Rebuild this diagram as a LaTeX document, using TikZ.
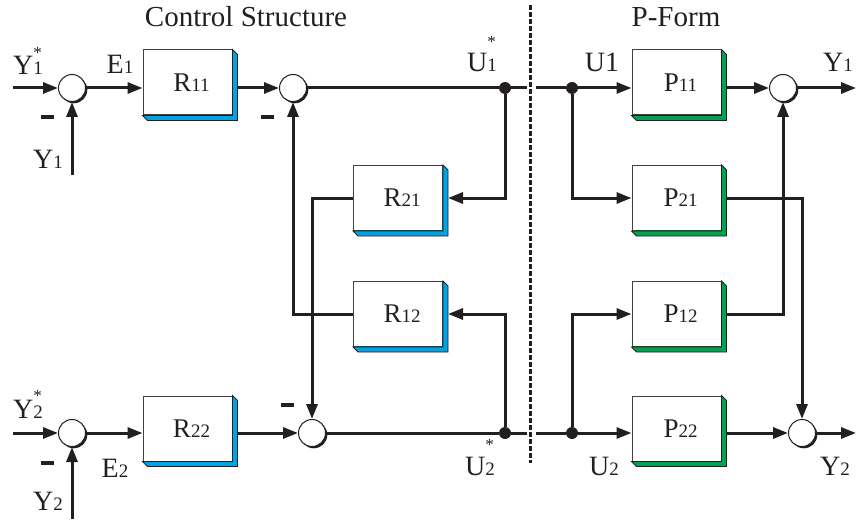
\documentclass[tikz,border=0pt]{standalone}
\usepackage{fontspec}
\setmainfont{Liberation Serif}
\usetikzlibrary{positioning, arrows.meta, calc, shadows}
\definecolor{ink}{RGB}{35,31,32}
\definecolor{rshade}{RGB}{0,164,228}
\definecolor{pshade}{RGB}{0,163,80}
\newcommand{\ix}[1]{{\fontsize{9.5}{9.5}\selectfont #1}}
\newcommand{\sx}[3]{#1\rlap{\raisebox{#3}{\fontsize{8.5}{8.5}\selectfont *}}\ix{#2}}

\begin{document}
\begin{tikzpicture}[
			x=0.5pt, y=-0.5pt,
			wire/.style={draw=ink, line width=1.5pt},
			arr/.style={wire, -{Triangle[length=7.5pt, width=5.5pt]}},
			sumnode/.style={circle, draw=ink, fill=white, line width=0.5pt, minimum size=13.5pt, inner sep=0pt,
				drop shadow={shadow xshift=0.9pt, shadow yshift=-0.9pt, fill=ink, opacity=1}},
			dotnode/.style={circle, fill=ink, minimum size=6pt, inner sep=0pt},
			block/.style={draw=ink!85, fill=white, line width=0.5pt, minimum width=44.5pt, minimum height=32.5pt,
				inner sep=0pt, text=ink, font=\fontsize{13.5}{14}\selectfont},
			lbl/.style={anchor=base, inner sep=0pt, text=ink, font=\fontsize{14}{14}\selectfont},
			zone/.style={anchor=base, inner sep=0pt, text=ink, font=\fontsize{14.5}{15}\selectfont},
			minus/.style={inner sep=0pt, text=ink}
			]
			\useasboundingbox (0,0) rectangle (856,519);
			
			% Nodes
			\node[sumnode] (s11) at (72,88) {};
			\node[sumnode] (s12) at (293,88) {};
			\node[sumnode] (s13) at (783,88) {};
			\node[sumnode] (s21) at (72,433) {};
			\node[sumnode] (s22) at (312,433) {};
			\node[sumnode] (s23) at (802,433) {};
			
			\node[block] (r11) at (187.5,82.5) {\hspace{4pt}R\ix{11}};
			\node[block] (r21) at (398,198)    {\hspace{4pt}R\ix{21}};
			\node[block] (r12) at (398,314)    {\hspace{4pt}R\ix{12}};
			\node[block] (r22) at (187.5,428.5) {\hspace{4pt}R\ix{22}};
			\node[block] (p11) at (676.5,82.5) {\hspace{4pt}P\ix{11}};
			\node[block] (p21) at (676.5,198)  {\hspace{4pt}P\ix{21}};
			\node[block] (p12) at (676.5,314)  {\hspace{4pt}P\ix{12}};
			\node[block] (p22) at (676.5,428.5) {\hspace{4pt}P\ix{22}};
			
			% box shadows
			\foreach \b/\c in {r11/rshade, r21/rshade, r12/rshade, r22/rshade,
				p11/pshade, p21/pshade, p12/pshade, p22/pshade}
			\filldraw[fill=\c, draw=ink, line width=0.4pt] (\b.north east) -- ++(5,5)
			-- ($(\b.south east)+(5,5)$) -- ($(\b.south west)+(5,5)$) -- (\b.south west)
			-- (\b.south east) -- cycle;
			
			\node[dotnode] (b1) at (505,88) {};
			\node[dotnode] (b2) at (505,433) {};
			\node[dotnode] (c1) at (572,88) {};
			\node[dotnode] (c2) at (572,433) {};
			
			\coordinate (in1) at (13,88);
			\coordinate (in2) at (13,433);
			\coordinate (fb1) at (72,175);
			\coordinate (fb2) at (72,519);
			\coordinate (out1) at (856,88);
			\coordinate (out2) at (856,433);
			\coordinate (d1) at (530,5);
			\coordinate (d2) at (530,463);
			
			% Labels
			\node[zone] (t1) at (246,27) {Control Structure};
			\node[zone] (t2) at (676,27) {P-Form};
			\node[lbl] (y1s) at (28,75)  {\sx{Y}{1}{1.25ex}};
			\node[lbl] (e1)  at (120,74) {E\ix{1}};
			\node[lbl] (y1)  at (48,168) {Y\ix{1}};
			\node[lbl] (u1s) at (482,72) {\sx{U}{1}{1.9ex}};
			\node[lbl] (u1)  at (602,72) {U1};
			\node[lbl] (y1o) at (838,72) {Y\ix{1}};
			\node[lbl] (y2s) at (28,418) {\sx{Y}{2}{1.25ex}};
			\node[lbl] (e2)  at (115,477) {E\ix{2}};
			\node[lbl] (y2)  at (48,510) {Y\ix{2}};
			\node[lbl] (u2s) at (480,475) {\sx{U}{2}{1.9ex}};
			\node[lbl] (u2)  at (604,475) {U\ix{2}};
			\node[lbl] (y2o) at (835,475) {Y\ix{2}};
			\node[minus] (m1) at (47,117)  {\rule{6.5pt}{1.6pt}};
			\node[minus] (m2) at (267,117) {\rule{6.5pt}{1.6pt}};
			\node[minus] (m3) at (47,463)  {\rule{6.5pt}{1.6pt}};
			\node[minus] (m4) at (287,405) {\rule{6.5pt}{1.6pt}};
			
			% Arrows, control structure
			\draw[arr] (in1) -- (s11);
			\draw[arr] (fb1) -- (s11);
			\draw[arr] (s11) -- (s11 -| r11.west);
			\draw[arr] ($(s12 -| r11.east)+(5,0)$) -- (s12);
			\draw[wire] (s12) -- (b1);
			\draw[arr] (b1) |- ($(r21.east)+(5,0)$);
			\draw[arr] (r21.west) -| (s22);
			\draw[arr] (b2) |- ($(r12.east)+(5,0)$);
			\draw[arr] (r12.west) -| (s12);
			\draw[arr] (in2) -- (s21);
			\draw[arr] (fb2) -- (s21);
			\draw[arr] (s21) -- (s21 -| r22.west);
			\draw[arr] ($(s22 -| r22.east)+(5,0)$) -- (s22);
			\draw[wire] (s22) -- (b2);
			
			% Cut line
			\draw[wire] (b1) -- ++(22,0);
			\draw[wire] (b2) -- ++(22,0);
			\draw[wire] (c1) -- ++(-36,0);
			\draw[wire] (c2) -- ++(-36,0);
			\draw[draw=ink, line width=1.5pt, dash pattern=on 2.5pt off 1pt] (d1) -- (d2);
			
			% Arrows, P-form
			\draw[arr] (c1) -- (c1 -| p11.west);
			\draw[arr] (c1) |- (p21.west);
			\draw[arr] (c2) |- (p12.west);
			\draw[arr] (c2) -- (c2 -| p22.west);
			\draw[arr] ($(s13 -| p11.east)+(5,0)$) -- (s13);
			\draw[arr] ($(p21.east)+(5,0)$) -| (s23);
			\draw[arr] ($(p12.east)+(5,0)$) -| (s13);
			\draw[arr] ($(s23 -| p22.east)+(5,0)$) -- (s23);
			\draw[arr] (s13) -- (out1);
			\draw[arr] (s23) -- (out2);
			
		\end{tikzpicture}
\end{document}
